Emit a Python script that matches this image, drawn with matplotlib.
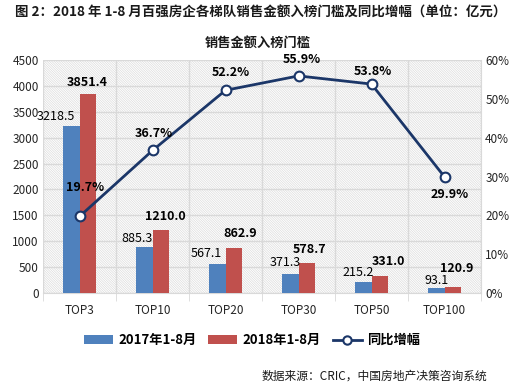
import matplotlib
matplotlib.use("Agg")
import matplotlib.pyplot as plt
from matplotlib.patches import Rectangle
from matplotlib.lines import Line2D
from matplotlib.patches import Patch
from matplotlib.ticker import FuncFormatter, MultipleLocator
import numpy as np

plt.rcParams["font.family"] = ["Noto Sans CJK SC", "DejaVu Sans"]
plt.rcParams["hatch.color"] = "#dcdcdc"
plt.rcParams["hatch.linewidth"] = 0.5

# data
categories = ["TOP3", "TOP10", "TOP20", "TOP30", "TOP50", "TOP100"]
sales_2017 = [3218.5, 885.3, 567.1, 371.3, 215.2, 93.1]
sales_2018 = [3851.4, 1210.0, 862.9, 578.7, 331.0, 120.9]
growth = [19.7, 36.7, 52.2, 55.9, 53.8, 29.9]

# label offsets in pixels (layout only)
off_2017 = [(-15, 10), (-7, 9), (-11, 10), (-5, 11), (-5, 9), (1, 8)]
off_2018 = [(-1, 11), (4, 14), (6, 15), (3, 14), (9, 14), (4, 18)]
off_growth = [(6, 29), (1, 17), (5, 18), (3, 16), (1, 13), (5, -18)]

blue = "#4f81bd"
red = "#c0504d"
navy = "#1b3668"
text_c = "#262626"

fig = plt.figure(figsize=(5.26, 3.89), dpi=100)
ax = fig.add_axes([43 / 526, 1 - 293 / 389, 438 / 526, 233 / 389])
ax2 = ax.twinx()

x = np.arange(len(categories))
w = 0.23

# hatched plot background
ax.add_patch(Rectangle((0, 0), 1, 1, transform=ax.transAxes, facecolor="white",
                       edgecolor="#dcdcdc", hatch="\\" * 14, linewidth=0, zorder=0))

ax.bar(x - w / 2, sales_2017, w, color=blue, zorder=3)
ax.bar(x + w / 2, sales_2018, w, color=red, zorder=3)

ax.set_xlim(-0.5, len(categories) - 0.5)
ax.set_ylim(0, 4500)
ax.yaxis.set_major_locator(MultipleLocator(500))
ax.set_xticks(x, categories)
ax.set_xticks(np.arange(-0.5, len(categories)), minor=True)
ax.grid(True, which="minor", axis="x", color="#d9d9d9", linewidth=1, zorder=1)
ax.grid(True, which="major", axis="y", color="#d9d9d9", linewidth=1, zorder=1)
ax.tick_params(axis="x", which="major", length=0, pad=8, labelsize=8.5, colors=text_c)
ax.tick_params(axis="x", which="minor", length=6, color="#d9d9d9")
ax.tick_params(axis="y", length=0, labelsize=8.5, colors=text_c, pad=3)
for s in ["top", "right", "left"]:
    ax.spines[s].set_visible(False)
ax.spines["bottom"].set_color("#d9d9d9")
ax.set_axisbelow(True)

for i in range(len(categories)):
    ax.annotate(f"{sales_2017[i]:.1f}", (x[i] - w / 2, sales_2017[i]),
                xytext=off_2017[i], textcoords="offset pixels",
                ha="center", va="center", fontsize=9, color="black", zorder=5)
    ax.annotate(f"{sales_2018[i]:.1f}", (x[i] + w / 2, sales_2018[i]),
                xytext=off_2018[i], textcoords="offset pixels",
                ha="center", va="center", fontsize=9, fontweight="bold", color="black", zorder=5)

ax2.plot(x, growth, color=navy, linewidth=2, marker="o", markersize=7,
         markerfacecolor="white", markeredgecolor=navy, markeredgewidth=1.5, zorder=4)
ax2.set_ylim(0, 60)
ax2.yaxis.set_major_locator(MultipleLocator(10))
ax2.yaxis.set_major_formatter(FuncFormatter(lambda v, p: f"{v:.0f}%"))
ax2.tick_params(axis="y", length=0, labelsize=8.5, colors=text_c, pad=3)
for s in ["top", "left", "bottom"]:
    ax2.spines[s].set_visible(False)
ax2.spines["right"].set_color("#d9d9d9")
for i in range(len(categories)):
    ax2.annotate(f"{growth[i]:.1f}%", (x[i], growth[i]), xytext=off_growth[i],
                 textcoords="offset pixels", ha="center", va="center",
                 fontsize=9, fontweight="bold", color="black", zorder=6)

fig.text(15 / 526, 1 - 13 / 389,
         "图 2：2018 年 1-8 月百强房企各梯队销售金额入榜门槛及同比增幅（单位：亿元）",
         ha="left", va="center", fontsize=9.7, fontweight="bold", color="#1a1a1a")
fig.text(258 / 526, 1 - 43 / 389, "销售金额入榜门槛", ha="center", va="center",
         fontsize=9.5, fontweight="bold", color="#1a1a1a")

handles = [
    Patch(facecolor=blue, label="2017年1-8月"),
    Patch(facecolor=red, label="2018年1-8月"),
    Line2D([0], [0], color=navy, linewidth=2, marker="o", markersize=6,
           markerfacecolor="white", markeredgewidth=1.5, label="同比增幅"),
]
fig.legend(handles=handles, loc="center", bbox_to_anchor=(252 / 526, 1 - 340 / 389),
           ncol=3, frameon=False, handlelength=2.2, handleheight=0.6, columnspacing=0.9,
           handletextpad=0.4, prop={"weight": "bold", "size": 9.5})

fig.text(487 / 526, 1 - 376 / 389, "数据来源：CRIC，中国房地产决策咨询系统",
         ha="right", va="center", fontsize=8.5, color="#1a1a1a")

fig.savefig("out.png", dpi=100)
